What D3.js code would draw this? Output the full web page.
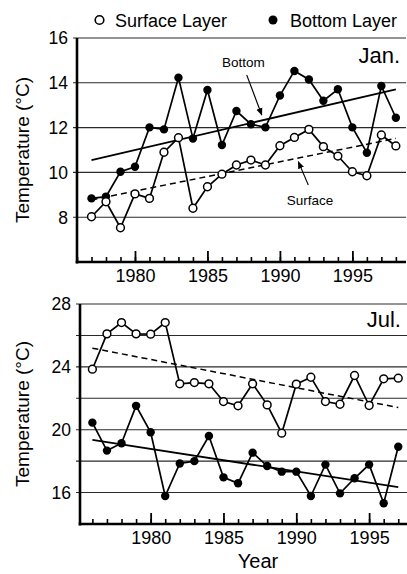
<!DOCTYPE html>
<html><head><meta charset="utf-8">
<script src="https://cdn.jsdelivr.net/npm/d3@7"></script>
<style>
html,body{margin:0;padding:0;background:#fff;}
svg{display:block;font-family:"Liberation Sans",Arial,Helvetica,sans-serif;}
</style></head>
<body>
<svg id="chart" width="407" height="574"></svg>
<script>
// ---------- data ----------
const janYears   = [1977,1978,1979,1980,1981,1982,1983,1984,1985,1986,1987,1988,1989,1990,1991,1992,1993,1994,1995,1996,1997,1998];
const janSurface = [8.02,8.69,7.53,9.04,8.84,10.9,11.55,8.40,9.36,9.92,10.33,10.55,10.33,11.19,11.56,11.92,11.15,10.73,10.03,9.85,11.67,11.18];
const janBottom  = [8.84,8.92,10.03,10.25,12.01,11.92,14.23,11.51,13.68,11.22,12.74,12.15,12.01,13.43,14.53,14.15,13.2,13.71,12.01,10.88,13.86,12.44];
const janTrendYears   = [1977,1998];
const janSurfaceTrend = [8.77,11.52];
const janBottomTrend  = [10.55,13.71];

const julYears   = [1976,1977,1978,1979,1980,1981,1982,1983,1984,1985,1986,1987,1988,1989,1990,1991,1992,1993,1994,1995,1996,1997];
const julSurface = [23.85,26.1,26.82,26.1,26.08,26.82,22.92,23.0,22.92,21.79,21.52,22.92,21.58,19.78,22.9,23.34,21.79,21.62,23.45,21.54,23.24,23.28];
const julBottom  = [20.45,18.67,19.14,21.52,19.84,15.78,17.85,18.0,19.6,16.97,16.59,18.54,17.69,17.33,17.33,15.78,17.78,15.95,16.91,17.78,15.32,18.92];
const julTrendYears   = [1976,1997];
const julSurfaceTrend = [25.19,21.41];
const julBottomTrend  = [19.35,16.34];

const yearTickLabels = [1980,1985,1990,1995];
const janYTicks = [8,10,12,14,16];
const janGrid   = [8,10,12,14,16];
const julYTicks = [16,20,24,28];
const julGrid   = [16,18,20,22,24,26,28];

const legendLabels = ["Surface Layer","Bottom Layer"];
const yTitle = "Temperature (°C)";
const xTitle = "Year";

// ---------- drawing ----------
const svg = d3.select("#chart");

function panel(cfg){
  const x = d3.scaleLinear().domain(cfg.xDomain).range(cfg.xRange);
  const y = d3.scaleLinear().domain(cfg.yDomain).range(cfg.yRange);
  const g = svg.append("g");
  const [x0,x1] = cfg.xRange, [yb,yt] = cfg.yRange;

  // gridlines
  g.selectAll("line.grid").data(cfg.grid).join("line")
    .attr("x1",x0-4).attr("x2",x1).attr("y1",d=>y(d)).attr("y2",d=>y(d))
    .attr("stroke","#2a2a2a").attr("stroke-width",1.1);

  // minor / major x ticks (inward)
  const minor = d3.range(Math.ceil(cfg.xDomain[0]), Math.floor(cfg.xDomain[1])+1);
  g.append("g").attr("transform",`translate(0,${yb})`)
    .call(d3.axisBottom(x).tickValues(minor).tickSize(-5).tickFormat(""))
    .call(a=>a.select(".domain").remove())
    .call(a=>a.selectAll("line").attr("stroke","#000").attr("stroke-width",1.6));
  g.append("g").attr("transform",`translate(0,${yb})`)
    .call(d3.axisBottom(x).tickValues(yearTickLabels).tickSize(-11).tickPadding(20).tickFormat(d3.format("d")))
    .call(a=>a.select(".domain").remove())
    .call(a=>a.selectAll("line").attr("stroke","#000").attr("stroke-width",1.8))
    .call(a=>a.selectAll("text").attr("fill","#000").attr("font-size","18px")
        .attr("font-family","'Liberation Sans',Arial,sans-serif").attr("dy","0"));

  // y tick labels
  g.selectAll("text.ytick").data(cfg.yTicks).join("text")
    .attr("x",x0-9).attr("y",d=>y(d)).attr("dy","0.36em")
    .attr("text-anchor","end").attr("font-size","17.5px").attr("fill","#000").text(d=>d);

  // axis lines
  g.append("line").attr("x1",x0).attr("x2",x0).attr("y1",yt).attr("y2",yb+1.5)
    .attr("stroke","#000").attr("stroke-width",2.6);
  g.append("line").attr("x1",x0-1.3).attr("x2",x1).attr("y1",yb).attr("y2",yb)
    .attr("stroke","#000").attr("stroke-width",2.6);

  // y title
  g.append("text").attr("transform",`translate(${cfg.yTitleX},${(yb+yt)/2}) rotate(-90)`)
    .attr("text-anchor","middle").attr("dy","0.36em").attr("font-size","19px").attr("fill","#000").text(yTitle);

  // trend lines
  const tl = d3.line().x(d=>x(d[0])).y(d=>y(d[1]));
  g.append("path").datum(cfg.trendYears.map((t,i)=>[t,cfg.bottomTrend[i]])).attr("d",tl)
    .attr("fill","none").attr("stroke","#000").attr("stroke-width",1.8);
  g.append("path").datum(cfg.trendYears.map((t,i)=>[t,cfg.surfaceTrend[i]])).attr("d",tl)
    .attr("fill","none").attr("stroke","#000").attr("stroke-width",1.5).attr("stroke-dasharray","6,4");

  // series
  const ln = d3.line().x(d=>x(d[0])).y(d=>y(d[1]));
  const sPts = cfg.years.map((t,i)=>[t,cfg.surface[i]]);
  const bPts = cfg.years.map((t,i)=>[t,cfg.bottom[i]]);
  g.append("path").datum(bPts).attr("d",ln).attr("fill","none").attr("stroke","#000").attr("stroke-width",1.7);
  g.append("path").datum(sPts).attr("d",ln).attr("fill","none").attr("stroke","#000").attr("stroke-width",1.7);
  g.selectAll("circle.b").data(bPts).join("circle")
    .attr("cx",d=>x(d[0])).attr("cy",d=>y(d[1])).attr("r",4.2).attr("fill","#000");
  g.selectAll("circle.s").data(sPts).join("circle")
    .attr("cx",d=>x(d[0])).attr("cy",d=>y(d[1])).attr("r",3.9)
    .attr("fill","#fff").attr("stroke","#000").attr("stroke-width",1.5);

  // month label
  g.append("text").attr("x",cfg.monthX).attr("y",cfg.monthY).attr("text-anchor","end")
    .attr("font-size","22px").attr("fill","#000").text(cfg.month);

  return {x,y,g};
}

const topP = panel({
  xDomain:[1976,1998.7], xRange:[77,406], yDomain:[6,16], yRange:[262,38],
  grid:janGrid, yTicks:janYTicks, yTitleX:22,
  years:janYears, surface:janSurface, bottom:janBottom,
  trendYears:janTrendYears, surfaceTrend:janSurfaceTrend, bottomTrend:janBottomTrend,
  month:"Jan.", monthX:400, monthY:63
});
const botP = panel({
  xDomain:[1975.15,1997.6], xRange:[80,407], yDomain:[14,28], yRange:[524,304],
  grid:julGrid, yTicks:julYTicks, yTitleX:22,
  years:julYears, surface:julSurface, bottom:julBottom,
  trendYears:julTrendYears, surfaceTrend:julSurfaceTrend, bottomTrend:julBottomTrend,
  month:"Jul.", monthX:401, monthY:327
});

// annotations in top panel (data coordinates)
const annotations = [
  {label:"Bottom",  tx:1986.0, ty:14.7, from:[1987.71,14.35], to:[1988.75,12.56]},
  {label:"Surface", tx:1990.47, ty:8.54, from:[1991.96,9.44], to:[1991.27,10.48]}
];
const defs = svg.append("defs");
defs.append("marker").attr("id","ah").attr("viewBox","0 0 10 10").attr("refX",9).attr("refY",5)
  .attr("markerWidth",7).attr("markerHeight",7).attr("orient","auto")
  .append("path").attr("d","M0,1 L10,5 L0,9 z").attr("fill","#000");
annotations.forEach(a=>{
  topP.g.append("text").attr("x",topP.x(a.tx)).attr("y",topP.y(a.ty))
    .attr("font-size","13.5px").attr("fill","#000").text(a.label);
  topP.g.append("line").attr("x1",topP.x(a.from[0])).attr("y1",topP.y(a.from[1]))
    .attr("x2",topP.x(a.to[0])).attr("y2",topP.y(a.to[1]))
    .attr("stroke","#000").attr("stroke-width",1.1).attr("marker-end","url(#ah)");
});

// legend
const leg = svg.append("g");
leg.append("circle").attr("cx",99.5).attr("cy",20).attr("r",4.3).attr("fill","#fff").attr("stroke","#000").attr("stroke-width",1.6);
leg.append("text").attr("x",115).attr("y",26.5).attr("font-size","18px").attr("fill","#000").text(legendLabels[0]);
leg.append("circle").attr("cx",273).attr("cy",20).attr("r",4.5).attr("fill","#000");
leg.append("text").attr("x",290).attr("y",26.5).attr("font-size","18px").attr("fill","#000").text(legendLabels[1]);

// x title
svg.append("text").attr("x",258).attr("y",568).attr("text-anchor","middle")
  .attr("font-size","20px").attr("fill","#000").text(xTitle);
</script>
</body></html>
